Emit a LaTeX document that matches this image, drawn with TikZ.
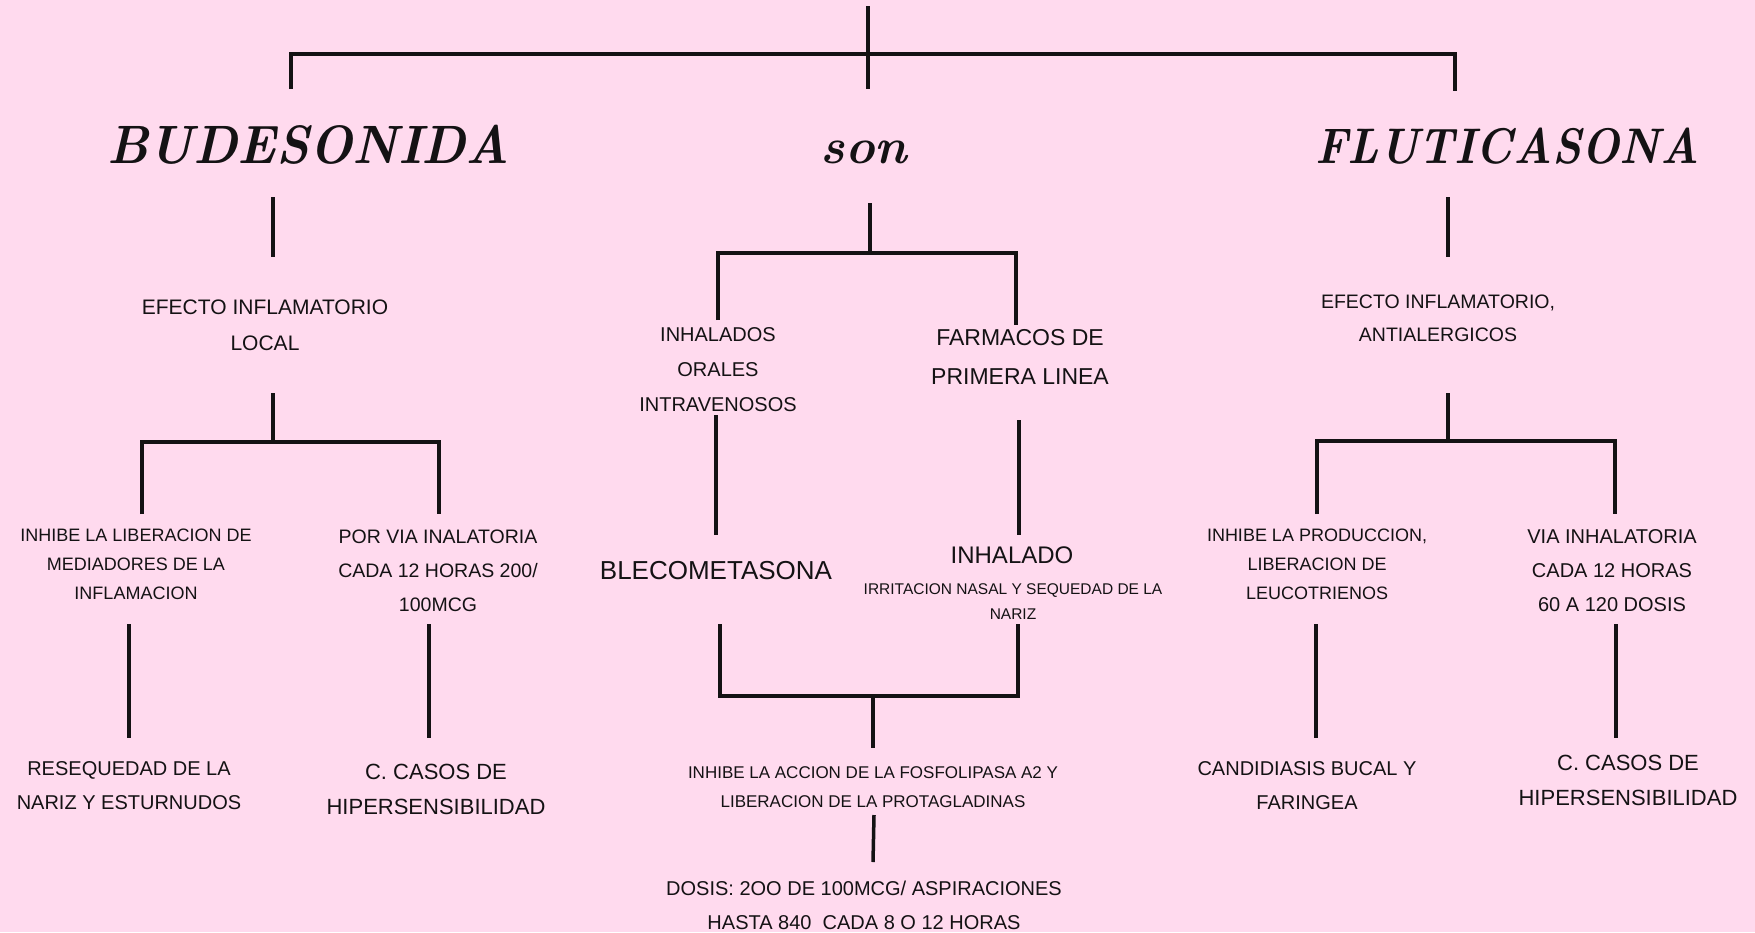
\documentclass[tikz,border=0pt]{standalone}
\usepackage{fontspec}
\newfontfamily\bodyfont{Liberation Sans}
\definecolor{bgpink}{RGB}{255,218,238}
\definecolor{ink}{RGB}{20,18,20}

\begin{document}
\begin{tikzpicture}[x=1pt,y=-1pt,
    ln/.style={line width=3.5pt, ink},
    ttl/.style={font=\fontsize{#1}{#1}\selectfont\bfseries\itshape, text=ink, anchor=base, inner sep=0pt},
    lbl/.style 2 args={font=\bodyfont\fontsize{#1}{#2}\selectfont, text=ink, align=center, inner sep=0pt}]
  \fill [bgpink] (0,0) rectangle (1755,932);
  \useasboundingbox (0,0) rectangle (1755,932);

  % titulos
  \node [ttl=54, xscale=0.94] (bud) at (308,163) {BUDESONIDA};
  \node [ttl=50] (son) at (864,163) {son};
  \node [ttl=50, xscale=0.9] (flu) at (1507,163) {FLUTICASONA};

  % budesonida
  \node [lbl={21}{36}] (budef) at (265,325) {EFECTO INFLAMATORIO\\LOCAL};
  \node [lbl={18}{29}] (budinh) at (136,564) {INHIBE LA LIBERACION DE\\MEDIADORES DE LA\\INFLAMACION};
  \node [lbl={19.5}{34}] (budvia) at (438,571) {POR VIA INALATORIA\\CADA 12 HORAS 200/\\100MCG};
  \node [lbl={20}{34}] (budres) at (129,786) {RESEQUEDAD DE LA\\NARIZ Y ESTURNUDOS};
  \node [lbl={22}{35}] (budcas) at (436,789.5) {C. CASOS DE\\HIPERSENSIBILIDAD};

  % centro
  \node [lbl={20}{35}] (inh) at (718,370) {INHALADOS\\ORALES\\INTRAVENOSOS};
  \node [lbl={23}{39}] (far) at (1020,356.5) {FARMACOS DE\\PRIMERA LINEA};
  \node [lbl={26}{30}] (ble) at (716,571) {BLECOMETASONA};
  \node [lbl={24}{30}] (inhd) at (1012,555) {INHALADO};
  \node [lbl={15.5}{25}] (irr) at (1013,601.5) {IRRITACION NASAL Y SEQUEDAD DE LA\\NARIZ};
  \node [lbl={17}{29}] (fos) at (873,787.5) {INHIBE LA ACCION DE LA FOSFOLIPASA A2 Y\\LIBERACION DE LA PROTAGLADINAS};
  \node [lbl={20}{34}] (dos) at (864,905) {DOSIS: 2OO DE 100MCG/ ASPIRACIONES\\HASTA 840~ CADA 8 O 12 HORAS};

  % fluticasona
  \node [lbl={19.5}{33}] (fluef) at (1438,318.5) {EFECTO INFLAMATORIO,\\ANTIALERGICOS};
  \node [lbl={18}{29}] (fluinh) at (1317,564) {INHIBE LA PRODUCCION,\\LIBERACION DE\\LEUCOTRIENOS};
  \node [lbl={20}{34}] (fluvia) at (1612,571) {VIA INHALATORIA\\CADA 12 HORAS\\60 A 120 DOSIS};
  \node [lbl={20}{34}] (flucan) at (1307,786) {CANDIDIASIS BUCAL Y\\FARINGEA};
  \node [lbl={22}{35}] (flucas) at (1628,780.5) {C. CASOS DE\\HIPERSENSIBILIDAD};

  % puntos de los conectores
  \coordinate (t0) at (868,6);    \coordinate (t1) at (868,89);
  \coordinate (tL) at (291,89);   \coordinate (tLc) at (291,54);
  \coordinate (tRc) at (1455,54); \coordinate (tR) at (1455,91);
  \coordinate (b1) at (273,197);  \coordinate (b2) at (273,257);
  \coordinate (b3) at (273,393);  \coordinate (b4) at (273,442);
  \coordinate (bL) at (142,514);  \coordinate (bLc) at (142,442);
  \coordinate (bRc) at (439,442); \coordinate (bR) at (439,514);
  \coordinate (b5) at (129,624);  \coordinate (b6) at (129,738);
  \coordinate (b7) at (429,624);  \coordinate (b8) at (429,738);
  \coordinate (s1) at (870,203);  \coordinate (s2) at (870,253);
  \coordinate (sL) at (718,320);  \coordinate (sLc) at (718,253);
  \coordinate (sRc) at (1016,253); \coordinate (sR) at (1016,325);
  \coordinate (s3) at (716,415);  \coordinate (s4) at (716,535);
  \coordinate (s5) at (1019,420); \coordinate (s6) at (1019,535);
  \coordinate (uL) at (720,624);  \coordinate (uLc) at (720,696);
  \coordinate (uRc) at (1018,696); \coordinate (uR) at (1018,624);
  \coordinate (u1) at (873,696);  \coordinate (u2) at (873,748);
  \coordinate (u3) at (874,815);  \coordinate (u4) at (873,862);
  \coordinate (f1) at (1448,197); \coordinate (f2) at (1448,257);
  \coordinate (f3) at (1448,393); \coordinate (f4) at (1448,441);
  \coordinate (fL) at (1317,514); \coordinate (fLc) at (1317,441);
  \coordinate (fRc) at (1615,441); \coordinate (fR) at (1615,514);
  \coordinate (f5) at (1316,624); \coordinate (f6) at (1316,738);
  \coordinate (f7) at (1616,624); \coordinate (f8) at (1616,738);

  % conectores
  \draw [ln] (t0) -- (t1);
  \draw [ln] (tL) -- (tLc) -- (tRc) -- (tR);
  \draw [ln] (b1) -- (b2);
  \draw [ln] (b3) -- (b4);
  \draw [ln] (bL) -- (bLc) -- (bRc) -- (bR);
  \draw [ln] (b5) -- (b6);
  \draw [ln] (b7) -- (b8);
  \draw [ln] (s1) -- (s2);
  \draw [ln] (sL) -- (sLc) -- (sRc) -- (sR);
  \draw [ln] (s3) -- (s4);
  \draw [ln] (s5) -- (s6);
  \draw [ln] (uR) -- (uRc) -- (uLc) -- (uL);
  \draw [ln] (u1) -- (u2);
  \draw [ln] (u3) -- (u4);
  \draw [ln] (f1) -- (f2);
  \draw [ln] (f3) -- (f4);
  \draw [ln] (fL) -- (fLc) -- (fRc) -- (fR);
  \draw [ln] (f5) -- (f6);
  \draw [ln] (f7) -- (f8);
\end{tikzpicture}
\end{document}
